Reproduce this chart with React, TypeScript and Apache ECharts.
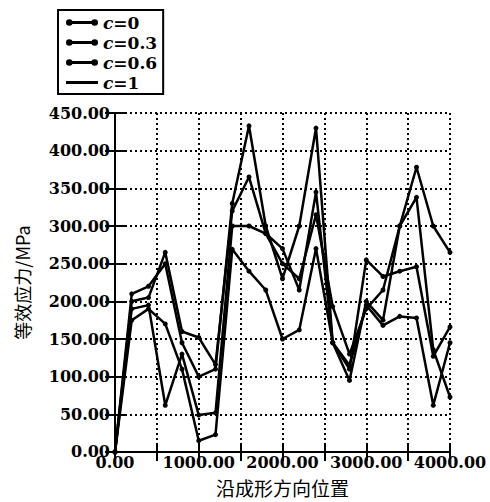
import React, { useEffect, useRef } from "react";
import * as echarts from "echarts";

const positions = [0, 200, 400, 600, 800, 1000, 1200, 1400, 1600, 1800, 2000, 2200, 2400, 2600, 2800, 3000, 3200, 3400, 3600, 3800, 4000];
const seriesNames = ["c=0", "c=0.3", "c=0.6", "c=1"];
const stressC0 = [0, 210, 220, 250, 145, 100, 110, 330, 433, 300, 230, 300, 430, 145, 95, 200, 175, 300, 378, 300, 265];
const stressC03 = [0, 200, 205, 265, 160, 152, 116, 320, 365, 290, 270, 215, 345, 145, 110, 255, 233, 240, 246, 127, 166];
const stressC06 = [0, 190, 195, 62, 130, 49, 52, 300, 300, 290, 250, 230, 315, 193, 130, 190, 215, 300, 338, 136, 73];
const stressC1 = [0, 175, 190, 170, 110, 15, 23, 269, 240, 215, 150, 162, 270, 145, 115, 195, 168, 180, 178, 62, 145];
const allStress = [stressC0, stressC03, stressC06, stressC1];

const FONT = "DejaVu Serif";
const dotIcon = "path://M6.8,2.5 H27.2 V5.5 H6.8 Z M0,4 a3.5,3.5 0 1,1 7,0 a3.5,3.5 0 1,1 -7,0 Z M27,4 a3.5,3.5 0 1,1 7,0 a3.5,3.5 0 1,1 -7,0 Z";
const barIcon = "path://M0,0 L0.01,0 Z M0,2.3 H34 V5.7 H0 Z M0,8 L0.01,8 Z";

export default function App() {
  const ref = useRef<HTMLDivElement>(null);
  useEffect(() => {
    if (!ref.current) return;
    const chart = echarts.init(ref.current, null, { renderer: "svg" });
    const axisText = { color: "#000", fontFamily: FONT, fontWeight: "bold" as const, fontSize: 16 };
    chart.setOption({
      animation: false,
      backgroundColor: "#fff",
      grid: { left: 115, right: 40, top: 113, bottom: 50 },
      legend: {
        left: 58,
        top: 10,
        orient: "vertical",
        borderColor: "#000",
        borderWidth: 2,
        padding: [4, 6, 3, 8],
        itemGap: 3,
        itemWidth: 32,
        itemHeight: 8,
        data: seriesNames.map((n, i) => ({ name: n, icon: i === 3 ? barIcon : dotIcon })),
        formatter: (name: string) => "{i|c}{n|" + name.slice(1) + "}",
        textStyle: {
          color: "#000",
          rich: {
            i: { fontFamily: FONT, fontStyle: "italic", fontWeight: "bold", fontSize: 17, color: "#000" },
            n: { fontFamily: FONT, fontWeight: "bold", fontSize: 17, color: "#000" },
          },
        },
      },
      xAxis: [
        {
          type: "value",
          min: 0,
          max: 4000,
          interval: 500,
          name: "沿成形方向位置",
          nameLocation: "middle",
          nameGap: 26,
          nameTextStyle: { color: "#000", fontFamily: "Noto Sans CJK SC", fontSize: 19 },
          axisLine: { show: true, lineStyle: { color: "#000", width: 2 } },
          axisTick: { show: true, inside: true, length: 9, lineStyle: { color: "#000", width: 2 } },
          axisLabel: {
            ...axisText,
            margin: 3,
            formatter: (v: number) => (v % 1000 === 0 ? v.toFixed(2) : ""),
          },
          splitLine: { show: true, lineStyle: { color: "#000", width: 2, type: [2, 3] } },
        },
        {
          type: "value",
          position: "top",
          min: 0,
          max: 4000,
          interval: 500,
          axisLine: { show: true, lineStyle: { color: "#000", width: 2 } },
          axisTick: { show: true, inside: true, length: 9, lineStyle: { color: "#000", width: 2 } },
          axisLabel: { show: false },
          splitLine: { show: false },
        },
      ],
      yAxis: [
        {
          type: "value",
          min: 0,
          max: 450,
          interval: 50,
          name: "等效应力/MPa",
          nameLocation: "middle",
          nameGap: 84,
          nameTextStyle: { color: "#000", fontFamily: "Noto Sans CJK SC", fontSize: 18 },
          axisLine: { show: true, lineStyle: { color: "#000", width: 2 } },
          axisTick: { show: true, inside: true, length: 10, lineStyle: { color: "#000", width: 2 } },
          axisLabel: { ...axisText, margin: 5, formatter: (v: number) => v.toFixed(2) },
          splitLine: { show: true, lineStyle: { color: "#000", width: 2, type: [2, 3] } },
        },
        {
          type: "value",
          position: "right",
          min: 0,
          max: 450,
          interval: 50,
          axisLine: { show: true, lineStyle: { color: "#000", width: 2 } },
          axisTick: { show: true, inside: true, length: 10, lineStyle: { color: "#000", width: 2 } },
          axisLabel: { show: false },
          splitLine: { show: false },
        },
      ],
      series: seriesNames.map((n, i) => ({
        name: n,
        type: "line",
        xAxisIndex: 0,
        yAxisIndex: 0,
        data: positions.map((p, j) => [p, allStress[i][j]]),
        symbol: "circle",
        symbolSize: 5,
        lineStyle: { color: "#000", width: 2.5 },
        itemStyle: { color: "#000" },
      })),
    });
    return () => chart.dispose();
  }, []);
  return <div ref={ref} style={{ position: "fixed", left: 0, top: 0, width: 490, height: 502 }} />;
}
